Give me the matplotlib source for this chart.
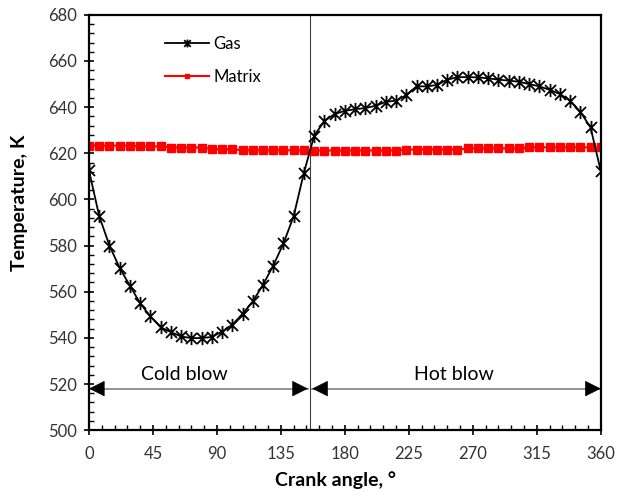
import matplotlib
matplotlib.use("Agg")
import matplotlib.pyplot as plt
from matplotlib.ticker import MultipleLocator
from matplotlib.path import Path

plt.rcParams['font.family'] = ['Lato', 'DejaVu Sans']

crank_angle = [i * 7.2 for i in range(51)]
gas_temp = [612.6, 592.8, 580.0, 570.3, 562.6, 555.0, 549.3, 544.6, 542.5, 540.6,
            539.9, 539.9, 540.4, 542.7, 545.7, 550.4, 555.8, 563.0, 571.3, 580.9,
            592.8, 611.6, 627.6, 634.0, 637.0, 638.4, 639.1, 639.6, 640.6, 642.3,
            642.8, 645.2, 649.0, 649.0, 649.6, 651.9, 653.0, 653.0, 652.9, 652.5,
            651.9, 651.5, 651.0, 650.0, 649.0, 647.5, 645.7, 642.8, 638.0, 631.2,
            612.3]
matrix_temp = [623.3] * 5 + [623.0] * 3 + [622.5] * 4 + [621.8] * 3 + [621.3] * 7 + \
              [621.2] * 9 + [621.6] * 6 + [622.1] * 6 + [622.6] * 8
x_ticks = [0, 45, 90, 135, 180, 225, 270, 315, 360]
y_ticks = list(range(500, 681, 20))
switch_angle = 155.5
cold_span = (0, 154)
hot_span = (157, 360)
arrow_level = 518

star = Path([(-1, -1), (1, 1), (-1, 1), (1, -1), (0, -1.2), (0, 1.2)],
            [Path.MOVETO, Path.LINETO, Path.MOVETO, Path.LINETO, Path.MOVETO, Path.LINETO])

fig = plt.figure(figsize=(6.2, 4.95), dpi=100)
ax = fig.add_axes([0.1435, 0.131, 0.8255, 0.839])

ax.plot(crank_angle, gas_temp, color='black', lw=1.3, marker=star,
        markersize=9.5, markeredgewidth=1.3, label='Gas', zorder=3)
ax.plot(crank_angle, matrix_temp, color='#ff0000', lw=1.5, marker='s',
        markersize=5.8, label='Matrix', zorder=2)

ax.axvline(switch_angle, color='#404040', lw=0.8, zorder=1)

for span in (cold_span, hot_span):
    ax.plot(list(span), [arrow_level, arrow_level], color='#808080', lw=1.2, zorder=1)
    ax.annotate('', xy=(span[1], arrow_level), xytext=(span[1] - 6, arrow_level),
                arrowprops=dict(arrowstyle='-|>', color='black', lw=0.5,
                                mutation_scale=26, shrinkA=0, shrinkB=0))
    ax.annotate('', xy=(span[0], arrow_level), xytext=(span[0] + 6, arrow_level),
                arrowprops=dict(arrowstyle='-|>', color='black', lw=0.5,
                                mutation_scale=26, shrinkA=0, shrinkB=0))
ax.text(67, 520.5, 'Cold blow', ha='center', va='bottom', fontsize=14)
ax.text(257, 520.5, 'Hot blow', ha='center', va='bottom', fontsize=14)

ax.set_xlim(0, 360)
ax.set_ylim(500, 680)
ax.set_xticks(x_ticks)
ax.set_yticks(y_ticks)
ax.xaxis.set_minor_locator(MultipleLocator(9))
ax.yaxis.set_minor_locator(MultipleLocator(4))
ax.tick_params(which='major', direction='inout', length=7, width=1.2, labelsize=12,
               labelcolor='#333333')
ax.tick_params(axis='x', which='major', pad=8)
ax.tick_params(axis='y', which='major', pad=5)
ax.tick_params(which='minor', direction='in', length=3.5, width=1.0)
for s in ax.spines.values():
    s.set_linewidth(1.6)

ax.set_xlabel('Crank angle, °', fontsize=14, fontweight='bold')
ax.set_ylabel('Temperature, K', fontsize=14, fontweight='bold')
ax.xaxis.set_label_coords(0.482, -0.1)
ax.yaxis.set_label_coords(-0.12, 0.547)

ax.legend(loc='upper left', bbox_to_anchor=(0.12, 0.985), frameon=False,
          fontsize=12, handlelength=2.6, labelspacing=1.0, handletextpad=0.3,
          markerscale=0.6)

fig.savefig('out.png', dpi=100)
